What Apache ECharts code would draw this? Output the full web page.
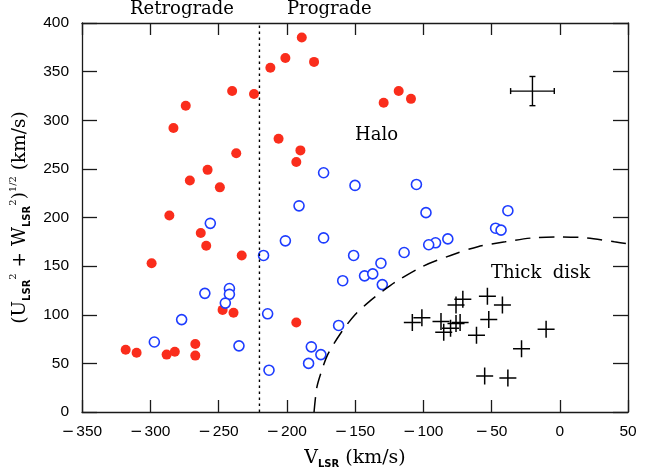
<!DOCTYPE html>
<html><head><meta charset="utf-8">
<script src="https://cdn.jsdelivr.net/npm/echarts@6/dist/echarts.min.js"></script>
<style>html,body{margin:0;padding:0;background:#fff}#c{width:659px;height:474px}</style>
</head><body><div id="c"></div>
<script>
// Halo stars, retro/prograde (filled red)
const redPoints = [[-189,385],[-201,364],[-180,360],[-212,354],[-240,330],[-224,327],[-274,315],[-283,292],[-206,281],[-190,269],[-193,257],[-237,266],[-258,249],[-271,238],[-249,231],[-286,202],[-263,184],[-259,171],[-233,161],[-299,153],[-247,105],[-239,102],[-193,92],[-318,64],[-310,61],[-288,59],[-282,62],[-267,70],[-267,58],[-129,318],[-118,330],[-109,322]];
// open blue circles
const bluePoints = [[-173,246],[-150,233],[-191,212],[-256,194],[-217,161],[-201,176],[-173,179],[-151,161],[-159,135],[-260,122],[-242,127],[-242,121],[-245,112],[-277,95],[-214,101],[-162,89],[-297,72],[-235,68],[-182,67],[-175,59],[-184,50],[-213,43],[-105,234],[-98,205],[-38,207],[-47,189],[-43,187],[-82,178],[-91,174],[-96,172],[-114,164],[-131,153],[-143,140],[-137,142],[-130,131]];
// thick disk crosses
const crossPoints = [[-108,92],[-101,97],[-87,93],[-85,82],[-80,86],[-76,91],[-73,92],[-76,110],[-71,116],[-53,119],[-52,95],[-61,79],[-42,110],[-10,85],[-28,65],[-55,37],[-38,35]];
// dashed thick-disk boundary
const boundary = [[-180,0],[-178,25],[-175,40],[-170,59],[-160,82],[-150,100],[-140,113],[-130,124],[-120,134],[-100,150],[-80,161],[-60,170],[-40,175],[-20,179],[0,180],[20,179],[40,175],[50,173]];
// vertical divider retrograde/prograde
const divider = [[-220,0],[-220,400]];
// typical error bar: [x, y, errX, errY]
const errorBar = [[-20,330,16,15]];
const xTicks = {min:-350, max:50, step:50};
const yTicks = {min:0, max:400, step:50};

const chart = echarts.init(document.getElementById('c'));
const axisCol = '#1a1a1a';
const lineSt = {color: axisCol, width: 1.3};
const serif = 'DejaVu Serif';
const fmt = v => v < 0 ? '{m|\u2212}{d|' + (-v) + '}' : '{d|' + v + '}';
const tickRich = {
  m: {fontFamily: 'DejaVu Sans', fontSize: 15, color: '#000', padding: [0, 2, 0, 0]},
  d: {fontFamily: 'Liberation Sans', fontSize: 15.5, color: '#000'}
};
chart.setOption({
  animation: false,
  grid: {left: 82, right: 31, top: 23, bottom: 56},
  xAxis: [{
    type: 'value', position: 'bottom', min: xTicks.min, max: xTicks.max, interval: xTicks.step,
    axisLine: {show: true, onZero: false, lineStyle: lineSt},
    axisTick: {show: true, inside: true, length: 12, lineStyle: lineSt},
    axisLabel: {formatter: fmt, rich: tickRich, margin: 12},
    splitLine: {show: false},
    name: '{t|V}{s|LSR}{t| (km/s)}', nameLocation: 'middle', nameGap: 35,
    nameTextStyle: {rich: {
      t: {fontFamily: serif, fontSize: 19, color: '#000', lineHeight: 22, verticalAlign: 'middle'},
      s: {fontFamily: 'DejaVu Sans', fontWeight: 'bold', fontSize: 10, color: '#000', lineHeight: 10, verticalAlign: 'bottom'}
    }}
  }, {
    type: 'value', position: 'top', min: xTicks.min, max: xTicks.max, interval: xTicks.step,
    axisLine: {show: true, onZero: false, lineStyle: lineSt},
    axisTick: {show: true, inside: true, length: 12, lineStyle: lineSt},
    axisLabel: {show: false}, splitLine: {show: false}
  }],
  yAxis: [{
    type: 'value', position: 'left', min: yTicks.min, max: yTicks.max, interval: yTicks.step,
    axisLine: {show: true, onZero: false, lineStyle: lineSt},
    axisTick: {show: true, inside: true, length: 15, lineStyle: lineSt},
    axisLabel: {color: '#000', fontFamily: 'Liberation Sans', fontSize: 15.5, margin: 13},
    splitLine: {show: false},
    name: '{t|(U}{s|LSR}{p|2}{t| + W}{s|LSR}{p|2}{t|)}{p|1/2}{t| (km/s)}',
    nameLocation: 'middle', nameGap: 49, nameRotate: 90,
    nameTextStyle: {rich: {
      t: {fontFamily: serif, fontSize: 18.5, color: '#000', lineHeight: 24, verticalAlign: 'middle'},
      s: {fontFamily: 'DejaVu Sans', fontWeight: 'bold', fontSize: 10, color: '#000', lineHeight: 10, verticalAlign: 'bottom'},
      p: {fontFamily: serif, fontSize: 10, color: '#000', lineHeight: 10, verticalAlign: 'top'}
    }}
  }, {
    type: 'value', position: 'right', min: yTicks.min, max: yTicks.max, interval: yTicks.step,
    axisLine: {show: true, onZero: false, lineStyle: lineSt},
    axisTick: {show: true, inside: true, length: 15, lineStyle: lineSt},
    axisLabel: {show: false}, splitLine: {show: false}
  }],
  series: [
    {type: 'line', data: divider, showSymbol: false, silent: true,
     lineStyle: {color: '#000', width: 1.4, type: [2.5, 3.5]}},
    {type: 'line', data: boundary, showSymbol: false, smooth: 0.3, silent: true,
     lineStyle: {color: '#000', width: 1.5, type: [15, 9]}},
    {type: 'scatter', data: redPoints, symbol: 'circle', symbolSize: 10,
     itemStyle: {color: '#fa2d1c', opacity: 1}},
    {type: 'scatter', data: bluePoints, symbol: 'circle', symbolSize: 10,
     itemStyle: {color: '#ffffff', borderColor: '#1d3cff', borderWidth: 1.6, opacity: 1}},
    {type: 'scatter', data: crossPoints, symbol: 'path://M5,0L5,10M0,5L10,5', symbolSize: 17,
     itemStyle: {color: 'none', borderColor: '#000', borderWidth: 1.5, opacity: 1}},
    {type: 'custom', data: errorBar, silent: true,
     renderItem: function (params, api) {
       const x = api.value(0), y = api.value(1), ex = api.value(2), ey = api.value(3);
       const l = api.coord([x - ex, y]), r = api.coord([x + ex, y]);
       const t = api.coord([x, y + ey]), b = api.coord([x, y - ey]);
       const st = {stroke: '#000', lineWidth: 1.4};
       const cap = 3;
       const seg = (x1, y1, x2, y2) => ({type: 'line', shape: {x1, y1, x2, y2}, style: st});
       return {type: 'group', children: [
         seg(l[0], l[1], r[0], r[1]), seg(t[0], t[1], b[0], b[1]),
         seg(l[0], l[1] - cap, l[0], l[1] + cap), seg(r[0], r[1] - cap, r[0], r[1] + cap),
         seg(t[0] - cap, t[1], t[0] + cap, t[1]), seg(b[0] - cap, b[1], b[0] + cap, b[1])
       ]};
     }}
  ],
  graphic: [
    {type: 'text', left: 130, top: 0, style: {text: 'Retrograde', font: '18px "DejaVu Serif"', fill: '#000'}},
    {type: 'text', left: 287, top: 0, style: {text: 'Prograde', font: '18px "DejaVu Serif"', fill: '#000'}},
    {type: 'text', left: 355, top: 126, style: {text: 'Halo', font: '18px "DejaVu Serif"', fill: '#000'}},
    {type: 'text', left: 491, top: 264, style: {text: 'Thick  disk', font: '18px "DejaVu Serif"', fill: '#000'}}
  ]
});
</script></body></html>
